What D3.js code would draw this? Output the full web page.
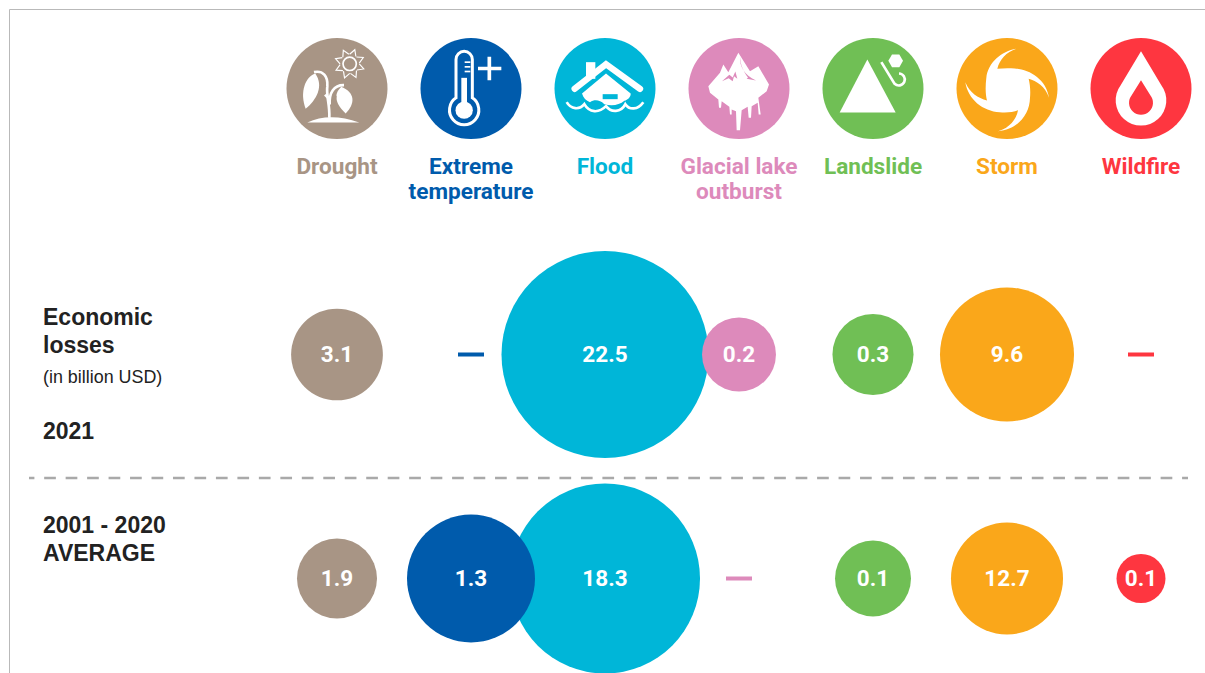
<!DOCTYPE html>
<html><head><meta charset="utf-8">
<script src="https://cdn.jsdelivr.net/npm/d3@7/dist/d3.min.js"></script>
<style>html,body{margin:0;padding:0;background:#fff}svg{display:block}
.v{font-family:Roboto,sans-serif;font-weight:700;font-size:22.5px;fill:#fff;text-anchor:middle;dominant-baseline:central}
.c{font-family:Roboto,sans-serif;font-weight:700;font-size:22.6px;text-anchor:middle}
.r{font-family:"Liberation Sans",sans-serif;font-weight:700;font-size:23px;fill:#222}
</style></head><body><svg id="chart" width="1205" height="673"></svg>
<script>
const categories = ["Drought","Extreme temperature","Flood","Glacial lake outburst","Landslide","Storm","Wildfire"];
const categoryLines = [["Drought"],["Extreme","temperature"],["Flood"],["Glacial lake","outburst"],["Landslide"],["Storm"],["Wildfire"]];
const colors = ["#a89585","#005bac","#00b6d8","#dd8abb","#70bf55","#faa71a","#fe3640"];
const rows = ["2021","2001 - 2020 AVERAGE"];
// printed figures (billion USD); null = no figure, drawn as a dash
const losses2021 = [3.1,null,22.5,0.2,0.3,9.6,null];
const lossesAverage = [1.9,1.3,18.3,null,0.1,12.7,0.1];
// the bubble areas in the picture do not follow the printed figures, so they are read separately
const bubbleArea2021 = [4.42,null,22.5,2.87,3.45,9.43,null];
const bubbleAreaAverage = [3.36,8.6,18.96,null,3.03,6.59,1.26];

const svg = d3.select("#chart");
const x = d3.scalePoint().domain(categories).range([337,1141]);
const y = d3.scalePoint().domain(rows).range([354.5,578.5]);
const r = d3.scaleSqrt().domain([0,22.5]).range([0,103.5]);
const color = d3.scaleOrdinal().domain(categories).range(colors);

// frame
svg.append("path").attr("d","M9.5 673V9.5H1205").attr("fill","none").attr("stroke","#b9b9b9").attr("stroke-width",1);
svg.append("line").attr("x1",29).attr("x2",1188).attr("y1",478).attr("y2",478)
  .attr("stroke","#a9a9a9").attr("stroke-width",2.5).attr("stroke-dasharray","11.7 9.77").attr("stroke-dashoffset",6.3);

// icons: drawn in a 315-unit box centred on the badge
const W="#fff";
const icons = {
 "Drought": (g,c)=>{
  g.append("path").attr("fill",W).attr("d","M68 259Q135 228 224 259Z");
  g.append("path").attr("fill","none").attr("stroke",W).attr("stroke-width",8)
   .attr("d","M134 245C136 205 124 180 128 150C130 120 115 102 88 108M135 205C133 170 148 146 178 147");
  g.append("path").attr("fill",W).attr("d","M118 178L130 168L132 192Z");
  g.append("path").attr("fill",W).attr("d","M92 112C62 122 44 168 63 218C96 190 118 150 92 112Z");
  g.append("path").attr("fill",W).attr("d","M170 152C150 170 146 198 183 232C212 202 212 170 170 152Z");
  g.append("path").attr("fill",c).attr("d","M143 190L156 178L152 212Z");
  g.append("circle").attr("cx",195).attr("cy",83).attr("r",20).attr("fill","none").attr("stroke",W).attr("stroke-width",5);
  d3.range(8).forEach(i=>g.append("path").attr("fill","none").attr("stroke",W).attr("stroke-width",3.5)
    .attr("transform",`translate(195,83) rotate(${i*45+20})`).attr("d","M-10 -27L0 -45L10 -27"));
 },
 "Extreme temperature": (g,c)=>{
  g.append("path").attr("fill","none").attr("stroke",W).attr("stroke-width",9)
   .attr("d","M112 185V70A24.5 24.5 0 0 1 161 70V185A44 44 0 1 1 112 185Z");
  g.append("circle").attr("cx",136.5).attr("cy",222).attr("r",26).attr("fill",W);
  g.append("rect").attr("x",128).attr("y",125).attr("width",17).attr("height",90).attr("fill",W);
  [78,92,106].forEach(v=>g.append("rect").attr("x",138).attr("y",v-2.5).attr("width",17).attr("height",5).attr("fill",W));
  g.append("path").attr("stroke",W).attr("stroke-width",11).attr("d","M178 97H248M212 62V132");
 },
 "Flood": (g,c)=>{
  g.append("rect").attr("x",100).attr("y",78).attr("width",28).attr("height",50).attr("fill",W);
  g.append("path").attr("fill","none").attr("stroke",W).attr("stroke-width",19).attr("stroke-linecap","round")
   .attr("d","M66 158L160 84L262 158");
  g.append("path").attr("fill",W).attr("d","M160 112L88 172C92 185 100 194 112 198C125 190 140 190 155 204C175 210 200 208 215 194C225 192 235 182 234 172Z");
  g.append("rect").attr("x",150).attr("y",174).attr("width",45).attr("height",15).attr("fill",c);
  g.append("path").attr("fill","none").attr("stroke",W).attr("stroke-width",8)
   .attr("d","M42 198C55 220 80 222 95 204C110 230 138 232 160 210C175 230 205 230 218 204C230 222 255 222 272 198");
 },
 "Glacial lake outburst": (g,c)=>{
  g.append("path").attr("fill",W).attr("d","M65 150L100 110L110 85L125 108L155 50L190 105L215 90L247 145L240 165L215 185L222 235L216 235L213 200L195 210L193 245L186 245L183 212L165 222L160 282L150 282L148 225L135 220L135 235L130 235L128 212L105 195L103 215L97 215L95 190L70 170Z");
  g.append("path").attr("fill",c).attr("d","M106 135L128 116L138 124L146 106L152 128L142 120L138 135L126 126Z");
  g.append("path").attr("fill",c).attr("d","M160 62C158 90 172 116 208 133L180 128L184 124C170 106 161 86 160 62Z");
 },
 "Landslide": (g,c)=>{
  g.append("path").attr("fill",W).attr("d","M140 70L57 229H225Z");
  g.append("path").attr("fill","none").attr("stroke",W).attr("stroke-width",8)
   .attr("d","M182 78L222 143A18 18 0 1 0 235 112");
  g.append("path").attr("fill",W).attr("d",d3.line()(d3.range(6).map(i=>[225+22*Math.cos(i*Math.PI/3),74+22*Math.sin(i*Math.PI/3)])));
 },
 "Storm": (g,c)=>{
  g.append("path").attr("fill",W).attr("d","M185 38C140 45 100 80 95 125C92 150 92 175 97 193C70 185 45 170 32 138C40 190 85 225 135 228C155 230 175 228 190 222C185 250 165 275 130 285C190 280 225 235 226 185C228 165 226 145 222 128C245 135 272 150 283 185C275 130 225 100 180 97C160 95 145 96 128 98C135 70 155 48 185 38Z");
 },
 "Wildfire": (g,c)=>{
  g.append("path").attr("fill",W).attr("d","M157 45L96 147A76 76 0 1 0 218 147Z");
  g.append("path").attr("fill",c).attr("d","M157 132L129 177A36 36 0 1 0 185 177Z");
 }
};

// header
categories.forEach((c,i)=>{
  const g = svg.append("g").attr("transform",`translate(${x(c)},88.5)`);
  g.append("circle").attr("r",50.5).attr("fill",color(c));
  const ig = g.append("g").attr("transform",`scale(${1/3}) translate(-157,-157)`);
  icons[c](ig,color(c));
  categoryLines[i].forEach((t,j)=>svg.append("text").attr("class","c").attr("x",x(c)).attr("y",173.5+j*25).attr("fill",color(c)).text(t));
});

// row labels
const rowText = [["Economic",43,325],["losses",43,353],["2021",43,439],["2001 - 2020",43,533],["AVERAGE",43,561]];
rowText.forEach(d=>svg.append("text").attr("class","r").attr("x",d[1]).attr("y",d[2]).text(d[0]));
svg.append("text").attr("x",43).attr("y",383).attr("font-family","Liberation Sans, sans-serif").attr("font-size",17.9).attr("fill","#222").text("(in billion USD)");

// bubbles
function drawRow(rowName, vals, areas){
  const data = categories.map((c,i)=>({c,v:vals[i],a:areas[i]}));
  const g = svg.append("g");
  const has = data.filter(d=>d.v!==null).sort((p,q)=>q.a-p.a);
  g.selectAll("circle").data(has).join("circle")
    .attr("cx",d=>x(d.c)).attr("cy",y(rowName)).attr("r",d=>r(d.a)).attr("fill",d=>color(d.c));
  g.selectAll("text").data(has).join("text").attr("class","v")
    .attr("x",d=>x(d.c)).attr("y",y(rowName)-1).text(d=>d3.format(".1f")(d.v));
  g.selectAll("rect").data(data.filter(d=>d.v===null)).join("rect")
    .attr("x",d=>x(d.c)-13).attr("y",y(rowName)-2).attr("width",26).attr("height",4).attr("fill",d=>color(d.c));
}
drawRow(rows[0],losses2021,bubbleArea2021);
drawRow(rows[1],lossesAverage,bubbleAreaAverage);
</script></body></html>
